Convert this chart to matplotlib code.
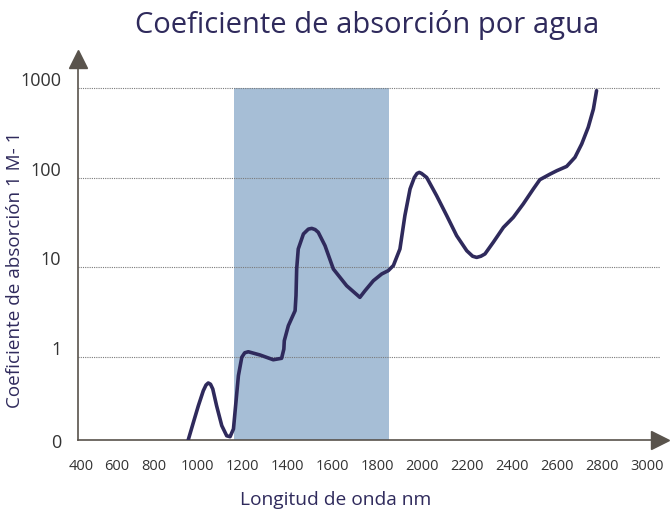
import matplotlib.pyplot as plt
from matplotlib.ticker import NullLocator
from matplotlib.transforms import ScaledTranslation

plt.rcParams['font.family'] = ['Open Sans', 'DejaVu Sans']

# values
wavelength = [961, 984, 1006, 1028, 1040, 1050, 1060, 1070, 1087, 1110,
              1132, 1147, 1162, 1173, 1184, 1199, 1212, 1228, 1280, 1339,
              1376, 1386, 1388, 1406, 1436, 1440, 1443, 1450, 1473, 1495,
              1510, 1525, 1539, 1569, 1606, 1665, 1724, 1747, 1784, 1821,
              1850, 1873, 1902, 1924, 1947, 1966, 1978, 1988, 1998, 2021,
              2065, 2110, 2154, 2199, 2225, 2243, 2262, 2280, 2317, 2362,
              2406, 2450, 2495, 2524, 2569, 2599, 2643, 2680, 2710, 2739,
              2762, 2776]
absorption = [0.117, 0.184, 0.282, 0.415, 0.48, 0.506, 0.49, 0.434, 0.282, 0.169,
              0.130, 0.127, 0.155, 0.308, 0.611, 0.98, 1.10, 1.13, 1.04, 0.92,
              0.955, 1.21, 1.50, 2.21, 3.25, 4.79, 9.5, 15.9, 23.4, 26.5,
              27.0, 26.2, 24.4, 17.3, 9.5, 6.18, 4.58, 5.44, 7.03, 8.36,
              9.1, 10.4, 15.9, 37.5, 74.5, 100, 111, 114, 111, 100,
              62.7, 37.5, 22.4, 15.2, 13.2, 12.8, 13.2, 14.0, 18.9, 27.7,
              35.9, 50.6, 74.5, 94.6, 109, 119, 133, 168, 237, 364,
              582, 934]

band = (1165, 1855)
y_bottom = 0.1167
y_ticks = [y_bottom, 1, 10, 100, 1000]
y_labels = ['0', '1', '10', '100', '1000']
x_labels = ['400', '600', '800', '1000', '1200', '1400', '1600', '1800',
            '2000', '2200', '2400', '2600', '2800', '3000']
x_label_pos = [484, 644, 809, 1000, 1200, 1400, 1600, 1800,
               2000, 2200, 2400, 2600, 2800, 3000]

navy = '#2f2a5c'
axis_col = '#59534c'

fig = plt.figure(figsize=(6.71, 5.10), dpi=100)
ax = fig.add_axes([78 / 671, 69 / 510, 582 / 671, 381 / 510])

ax.set_yscale('log')
ax.set_xlim(471, 3058)
ax.set_ylim(y_bottom, 2109)
ax.yaxis.set_minor_locator(NullLocator())

ax.fill_between(band, y_bottom, 1000, color='#a6bed6', lw=0, zorder=1)
for v in y_ticks[1:]:
    ax.axhline(v, color='#7a7a7a', lw=0.8, ls=(0, (1, 1)), zorder=2)

ax.plot(wavelength, absorption, color=navy, lw=2.6,
        solid_capstyle='round', solid_joinstyle='round', zorder=3)

for s in ['top', 'right']:
    ax.spines[s].set_visible(False)
for s in ['left', 'bottom']:
    ax.spines[s].set_color(axis_col)
    ax.spines[s].set_linewidth(1.2)
ax.plot([0], [1], marker='^', ms=13, color=axis_col, transform=ax.transAxes,
        clip_on=False)
ax.plot([1], [0], marker='>', ms=13, color=axis_col, transform=ax.transAxes,
        clip_on=False)

ax.set_yticks(y_ticks, y_labels, fontsize=13, color='#333333')
ax.set_xticks(x_label_pos, x_labels, fontsize=10.5, color='#333333')
ax.tick_params(axis='y', length=0, pad=12)
ax.tick_params(axis='x', length=0, pad=13)
up = ScaledTranslation(0, 7 / 72, fig.dpi_scale_trans)
for lab in ax.get_yticklabels()[1:]:
    lab.set_transform(lab.get_transform() + up)

fig.text(367 / 671, 1 - 25 / 510, 'Coeficiente de absorción por agua',
         ha='center', va='center', fontsize=21, color=navy)
fig.text(15 / 671, 1 - 270 / 510, 'Coeficiente de absorción 1 M- 1',
         ha='center', va='center', rotation=90, fontsize=13.6, color=navy)
fig.text(336 / 671, 1 - 500 / 510, 'Longitud de onda nm',
         ha='center', va='center', fontsize=13.8, color=navy)

fig.savefig('out.png', dpi=100)
